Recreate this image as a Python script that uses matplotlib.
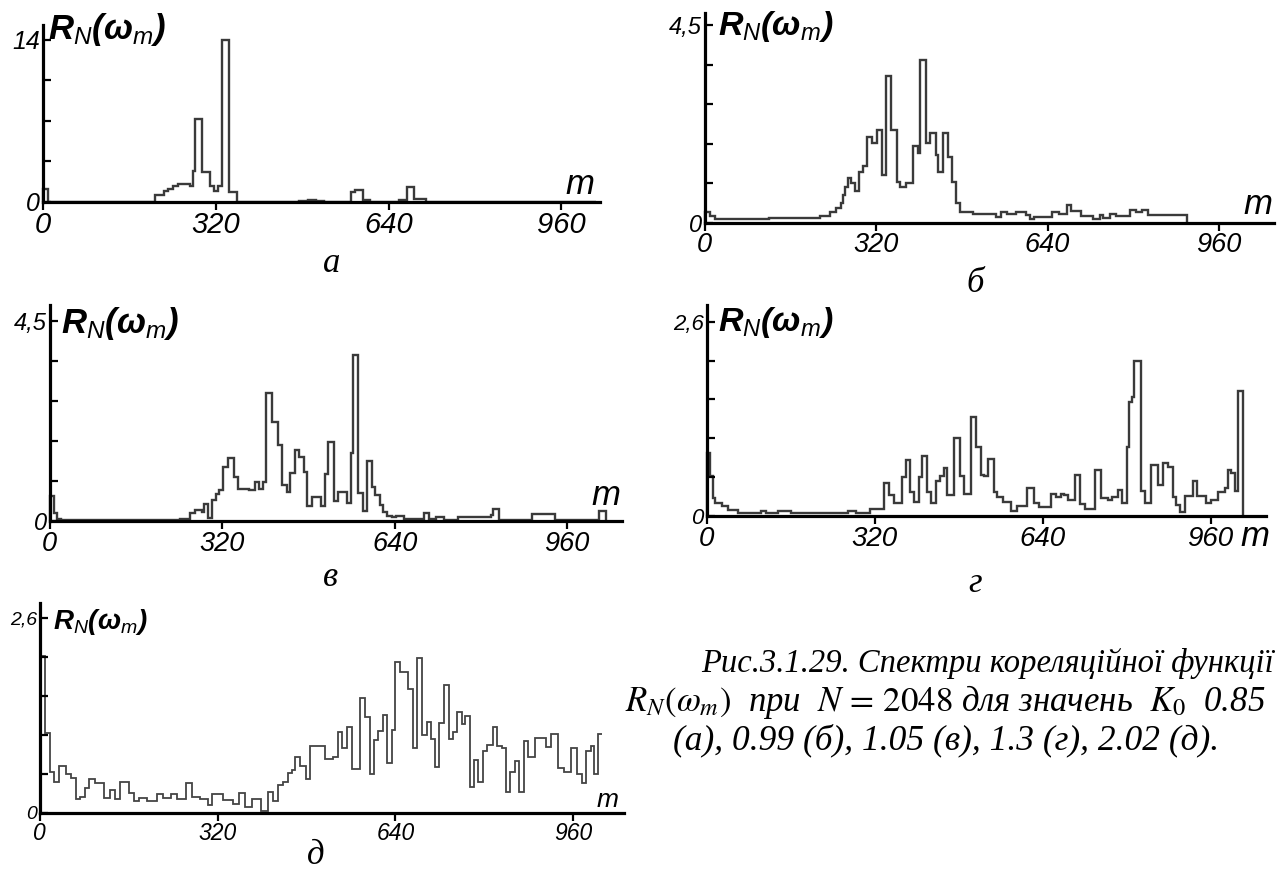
import matplotlib
matplotlib.use("Agg")
import matplotlib.pyplot as plt

# ---------------- data: spectra R_N(omega_m), step edges (m) and levels ----------------
edges_a = [0, 9, 208, 224, 232, 240, 250, 262, 272, 277, 282, 295, 309, 317, 324, 332,
           344, 360, 474, 490, 505, 520, 571, 578, 592, 606, 659, 675, 687, 709, 1024]
vals_a = [1.1, 0, 0.6, 0.9, 1.1, 1.4, 1.55, 1.5, 1.4, 2.7, 7.2, 2.6, 1.4, 0.9, 1.4, 14.0,
          0.8, 0, 0.1, 0.15, 0.1, 0, 0.8, 1.0, 0.15, 0, 0.15, 1.25, 0.2, 0]

edges_b = [0, 10, 20, 120, 215, 234, 245, 254, 259, 263, 268, 273, 281, 288, 295, 304, 312,
           321, 331, 339, 348, 359, 365, 376, 389, 398, 402, 413, 421, 431, 436, 445, 455,
           462, 470, 476, 500, 543, 554, 565, 581, 600, 607, 615, 649, 661, 676, 683, 703,
           725, 737, 744, 756, 767, 794, 805, 817, 828, 900]
vals_b = [0.25, 0.15, 0.08, 0.11, 0.15, 0.25, 0.33, 0.44, 0.63, 0.82, 1.01, 0.9, 0.71, 1.16,
          1.29, 1.96, 1.81, 2.1, 1.09, 3.34, 2.11, 0.93, 0.82, 0.91, 1.75, 1.58, 3.71, 1.81,
          2.04, 1.54, 1.16, 2.05, 1.5, 0.93, 0.44, 0.25, 0.2, 0.13, 0.25, 0.2, 0.25, 0.18,
          0.08, 0.13, 0.23, 0.19, 0.4, 0.27, 0.15, 0.08, 0.18, 0.1, 0.19, 0.15, 0.28, 0.23,
          0.28, 0.17]

edges_c = [0, 7, 14, 20, 242, 260, 270, 283, 287, 293, 301, 308, 314, 322, 331, 341, 350, 370,
           380, 388, 396, 401, 412, 423, 431, 440, 446, 454, 463, 471, 478, 486, 503, 511,
           516, 527, 534, 552, 559, 562, 572, 581, 589, 598, 604, 612, 618, 626, 634, 643,
           657, 671, 694, 704, 717, 732, 758, 819, 823, 833, 850, 895, 937, 979, 1018, 1032]
vals_c = [0.56, 0.18, 0.05, 0.02, 0.04, 0.19, 0.25, 0.21, 0.38, 0.06, 0.47, 0.61, 0.7, 1.22,
          1.42, 0.99, 0.73, 0.70, 0.88, 0.71, 0.88, 2.88, 2.23, 1.71, 0.81, 0.66, 1.07, 1.59,
          1.43, 1.11, 0.34, 0.53, 0.34, 1.05, 1.78, 0.46, 0.65, 0.40, 1.52, 3.74, 0.62, 0.22,
          1.35, 0.77, 0.58, 0.36, 0.21, 0.11, 0.08, 0.11, 0.04, 0.05, 0.17, 0.05, 0.09, 0.03,
          0.08, 0.13, 0.26, 0.03, 0.015, 0.15, 0.015, 0.03, 0.22]

edges_d = [0, 7, 12, 17, 29, 40, 60, 103, 114, 137, 161, 270, 285, 312, 338, 347, 357, 372,
           380, 388, 396, 404, 410, 420, 428, 437, 445, 452, 459, 471, 483, 491, 504, 513,
           523, 529, 537, 547, 554, 564, 580, 592, 611, 623, 634, 656, 665, 675, 680, 688,
           701, 712, 720, 740, 752, 765, 772, 784, 791, 800, 805, 810, 815, 827, 836, 846,
           860, 869, 879, 888, 894, 901, 911, 926, 935, 952, 961, 974, 987, 993, 999, 1007,
           1012, 1021]
vals_d = [0.85, 0.53, 0.24, 0.18, 0.13, 0.08, 0.045, 0.07, 0.045, 0.07, 0.045, 0.07, 0.035,
          0.09, 0.44, 0.28, 0.17, 0.52, 0.75, 0.32, 0.19, 0.52, 0.8, 0.32, 0.17, 0.47, 0.54,
          0.64, 0.28, 1.05, 0.53, 0.29, 1.33, 0.93, 0.55, 0.53, 0.76, 0.32, 0.26, 0.19, 0.07,
          0.14, 0.38, 0.17, 0.12, 0.29, 0.26, 0.30, 0.28, 0.21, 0.55, 0.16, 0.1, 0.62, 0.24,
          0.21, 0.25, 0.35, 0.17, 0.92, 1.53, 1.59, 2.07, 0.34, 0.18, 0.68, 0.42, 0.71, 0.66,
          0.25, 0.15, 0.05, 0.27, 0.47, 0.27, 0.17, 0.21, 0.32, 0.38, 0.61, 0.58, 0.34, 1.67]

edges_e = [0, 10, 18, 26, 35, 48, 57, 65, 72, 81, 89, 99, 116, 127, 136, 145, 160, 170, 178,
           193, 211, 222, 237, 248, 263, 274, 288, 302, 310, 329, 347, 358, 369, 382, 399,
           410, 419, 428, 437, 446, 454, 459, 468, 479, 487, 513, 528, 537, 543, 552, 561,
           576, 585, 594, 601, 609, 617, 624, 633, 639, 648, 663, 671, 679, 688, 697, 704,
           712, 718, 727, 736, 743, 751, 759, 765, 774, 781, 789, 797, 805, 815, 822, 831,
           839, 846, 855, 863, 871, 879, 891, 910, 919, 933, 943, 955, 967, 976, 982, 991,
           997, 1005, 1012]
vals_e = [2.09, 1.06, 0.55, 0.41, 0.62, 0.52, 0.46, 0.18, 0.21, 0.33, 0.45, 0.40, 0.19, 0.30,
          0.18, 0.41, 0.27, 0.16, 0.20, 0.16, 0.25, 0.19, 0.25, 0.18, 0.40, 0.21, 0.18, 0.10,
          0.25, 0.17, 0.12, 0.27, 0.07, 0.18, 0.02, 0.28, 0.15, 0.37, 0.41, 0.53, 0.57, 0.75,
          0.62, 0.45, 0.89, 0.72, 0.74, 1.08, 0.86, 1.14, 0.59, 1.53, 1.28, 0.52, 0.97, 1.09,
          1.30, 0.66, 1.10, 2.01, 1.88, 1.65, 0.86, 2.07, 1.04, 1.21, 0.99, 0.61, 1.2, 1.71,
          0.99, 1.08, 1.35, 1.19, 1.29, 0.35, 0.70, 0.41, 0.83, 0.91, 1.15, 0.89, 0.86, 0.28,
          0.55, 0.69, 0.28, 0.96, 0.75, 1.0, 0.88, 1.05, 0.6, 0.55, 0.86, 0.52, 0.4, 0.83,
          0.89, 0.52, 1.05]

x_ticks = [0, 320, 640, 960]
x_ticklabels = ["0", "320", "640", "960"]
yticks_a = [0, 3.5, 7, 10.5, 14]
yticks_b = [0, 0.9, 1.8, 2.7, 3.6, 4.5]
yticks_g = [0, 0.52, 1.04, 1.56, 2.08, 2.6]
ylabels_a = ["0", "", "", "", "14"]
ylabels_b = ["0", "", "", "", "", "4,5"]
ylabels_g = ["0", "", "", "", "", "2,6"]
panel_letters = ["а", "б", "в", "г", "д"]

caption = [
    "Рис.3.1.29. Спектри кореляційної функції",
    r"$R_N\left(\omega_m\right)$  при  $N\,=\,2048$ для значень  $K_0$  0.85",
    "(а), 0.99 (б), 1.05 (в), 1.3 (г), 2.02 (д).",
]

# ---------------- styling ----------------
plt.rcParams["mathtext.fontset"] = "custom"
plt.rcParams["mathtext.rm"] = "Liberation Sans:bold:italic"
plt.rcParams["mathtext.it"] = "Liberation Sans:bold:italic"
plt.rcParams["mathtext.bf"] = "Liberation Sans:bold:italic"
plt.rcParams["mathtext.sf"] = "Liberation Sans:italic"

W, H = 1280, 876
fig = plt.figure(figsize=(W / 100, H / 100), dpi=100)
fig.patch.set_facecolor("white")

TICKFONT = dict(family="Liberation Sans", style="italic")
LINE = "#3a3a3a"


def fx(x):
    return x / W


def fy(y):
    return 1 - y / H


def panel(edges, vals, x0, y0, x_end, y_top, sx, sy, yticks, ylabels,
          xfs, yfs, lw=1.7, baseline=0, color=LINE):
    ax = fig.add_axes([x0 / W, 1 - y0 / H, (x_end - x0) / W, (y0 - y_top) / H])
    ax.set_xlim(0, (x_end - x0) / sx)
    ax.set_ylim(0, (y0 - y_top) / sy)
    ax.stairs(vals, edges, baseline=baseline, color=color, lw=lw, clip_on=False)
    for side in ("top", "right"):
        ax.spines[side].set_visible(False)
    for side in ("left", "bottom"):
        ax.spines[side].set_linewidth(2.3)
        ax.spines[side].set_color("black")
    ax.set_facecolor("none")
    ax.set_xticks(x_ticks)
    ax.set_xticklabels(x_ticklabels, fontsize=xfs, **TICKFONT)
    ax.set_yticks(yticks)
    ax.set_yticklabels(ylabels, fontsize=yfs, **TICKFONT)
    ax.tick_params(axis="y", direction="in", length=6, width=1.6, pad=2)
    ax.tick_params(axis="x", direction="out", length=6, width=1.6, pad=1)
    return ax


panel(edges_a, vals_a, 43, 201.7, 600, 25, 0.54, 11.55, yticks_a, ylabels_a, 21, 18)
panel(edges_b, vals_b, 704.5, 222.5, 1274, 13, 0.536, 43.85, yticks_b, ylabels_b, 19.5, 17)
panel(edges_c, vals_c, 49.8, 521, 622, 305, 0.539, 44.5, yticks_b, ylabels_b, 19.5, 17)
panel(edges_d, vals_d, 706.5, 516, 1266, 305, 0.525, 74.7, yticks_g, ylabels_g, 20, 16)
panel(edges_e, vals_e, 39.6, 812.7, 624, 603, 0.556, 74.8, yticks_g, ylabels_g, 16.5, 14,
      lw=1.3, baseline=None, color="#444444")

# axis captions
ylab = r"$R_{\mathsf{N}}(\omega_{\mathsf{m}})$"
for (x, y, fs) in [(48, 30, 25), (718, 27, 24.5), (61, 324, 25), (718, 322, 24.5),
                   (53, 622, 20)]:
    fig.text(fx(x), fy(y), ylab, fontsize=fs, ha="left", va="center")

for (x, y, fs) in [(580, 185, 25), (1258, 205, 25), (606, 495, 25), (1255, 537, 25),
                   (608, 800, 19)]:
    fig.text(fx(x), fy(y), "m", fontsize=fs, ha="center", va="center", **TICKFONT)

for (x, y), s in zip([(332, 264), (975, 283), (330, 578), (975, 584), (316, 856)],
                     panel_letters):
    fig.text(fx(x), fy(y), s, fontsize=25, ha="center", va="center",
             family="Liberation Serif", style="italic")

for (x, y, fs), s in zip([(988, 663, 23.5), (945, 702, 25), (946, 740, 25.5)], caption):
    fig.text(fx(x), fy(y), s, fontsize=fs, ha="center", va="center",
             family="Liberation Serif", style="italic", math_fontfamily="stix")

fig.savefig("out.png", dpi=100, facecolor="white")
